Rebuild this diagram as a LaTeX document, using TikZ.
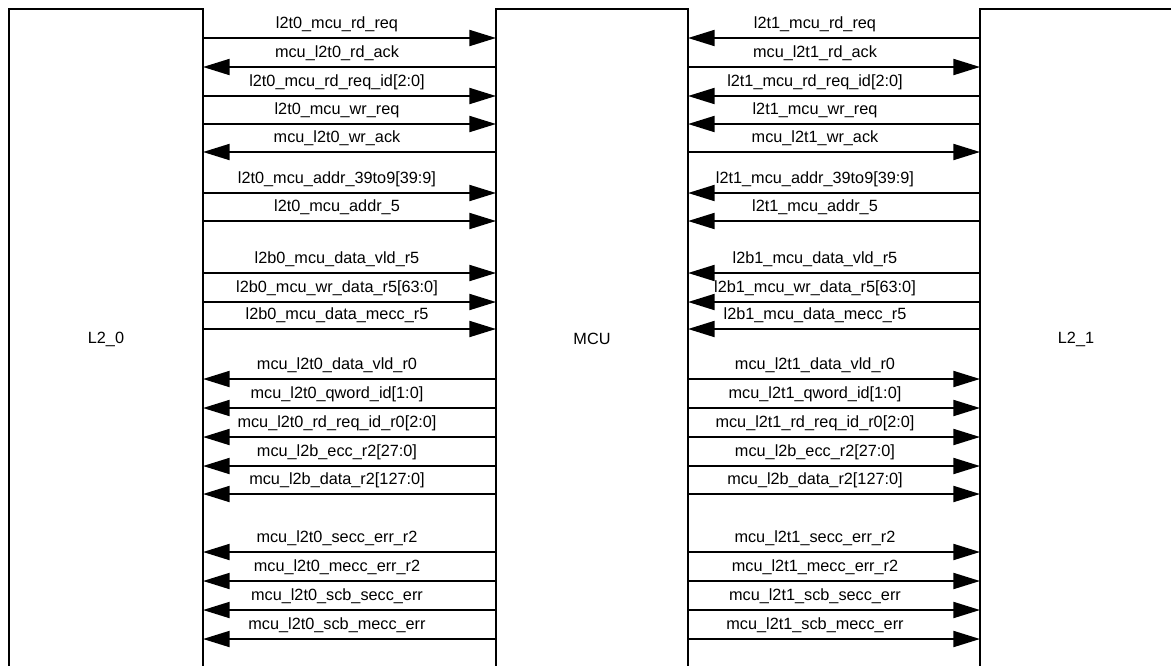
\documentclass[tikz,border=0pt]{standalone}
\usepackage{fontspec}
\setmainfont{Liberation Sans}
\usetikzlibrary{arrows.meta}

\begin{document}
\begin{tikzpicture}[x=0.75pt, y=-0.75pt,
    unit/.style={draw, line width=1.5pt, minimum height=495pt,
                 inner sep=0pt, outer sep=0pt, font=\fontsize{12.2}{14}\selectfont},
    wire/.style={line width=1.5pt, -{Triangle[length=20pt, width=12pt]}},
    signame/.style={anchor=base, inner sep=0pt, font=\fontsize{12.2}{14}\selectfont},
  ]
  \useasboundingbox (0,0) rectangle (1171,665);
  \clip (0,0) rectangle (1171,665);

  \node[unit, minimum width=145.5pt] (l20) at (106,339) {L2\_0};
  \node[unit, minimum width=144pt] (mcu) at (592,339) {MCU};
  \node[unit, minimum width=144pt] (l21) at (1076,339) {L2\_1};

  % L2_0 <-> MCU
  \foreach \y/\p/\q/\txt in {
      38/l20.east/mcu.west/l2t0\_mcu\_rd\_req,
      67/mcu.west/l20.east/mcu\_l2t0\_rd\_ack,
      96/l20.east/mcu.west/l2t0\_mcu\_rd\_req\_id[2:0],
      124/l20.east/mcu.west/l2t0\_mcu\_wr\_req,
      152/mcu.west/l20.east/mcu\_l2t0\_wr\_ack,
      193/l20.east/mcu.west/l2t0\_mcu\_addr\_39to9[39:9],
      221/l20.east/mcu.west/l2t0\_mcu\_addr\_5,
      273/l20.east/mcu.west/l2b0\_mcu\_data\_vld\_r5,
      302/l20.east/mcu.west/l2b0\_mcu\_wr\_data\_r5[63:0],
      329/l20.east/mcu.west/l2b0\_mcu\_data\_mecc\_r5,
      379/mcu.west/l20.east/mcu\_l2t0\_data\_vld\_r0,
      408/mcu.west/l20.east/mcu\_l2t0\_qword\_id[1:0],
      437/mcu.west/l20.east/mcu\_l2t0\_rd\_req\_id\_r0[2:0],
      466/mcu.west/l20.east/mcu\_l2b\_ecc\_r2[27:0],
      494/mcu.west/l20.east/mcu\_l2b\_data\_r2[127:0],
      552/mcu.west/l20.east/mcu\_l2t0\_secc\_err\_r2,
      581/mcu.west/l20.east/mcu\_l2t0\_mecc\_err\_r2,
      610/mcu.west/l20.east/mcu\_l2t0\_scb\_secc\_err,
      639/mcu.west/l20.east/mcu\_l2t0\_scb\_mecc\_err}
  {
    \draw[wire] (\p |- 0,\y) -- (\q |- 0,\y);
    \node[signame] (sa-\y) at (337,\y-10) {\txt};
  }

  % MCU <-> L2_1
  \foreach \y/\p/\q/\txt in {
      38/l21.west/mcu.east/l2t1\_mcu\_rd\_req,
      67/mcu.east/l21.west/mcu\_l2t1\_rd\_ack,
      96/l21.west/mcu.east/l2t1\_mcu\_rd\_req\_id[2:0],
      124/l21.west/mcu.east/l2t1\_mcu\_wr\_req,
      152/mcu.east/l21.west/mcu\_l2t1\_wr\_ack,
      193/l21.west/mcu.east/l2t1\_mcu\_addr\_39to9[39:9],
      221/l21.west/mcu.east/l2t1\_mcu\_addr\_5,
      273/l21.west/mcu.east/l2b1\_mcu\_data\_vld\_r5,
      302/l21.west/mcu.east/l2b1\_mcu\_wr\_data\_r5[63:0],
      329/l21.west/mcu.east/l2b1\_mcu\_data\_mecc\_r5,
      379/mcu.east/l21.west/mcu\_l2t1\_data\_vld\_r0,
      408/mcu.east/l21.west/mcu\_l2t1\_qword\_id[1:0],
      437/mcu.east/l21.west/mcu\_l2t1\_rd\_req\_id\_r0[2:0],
      466/mcu.east/l21.west/mcu\_l2b\_ecc\_r2[27:0],
      494/mcu.east/l21.west/mcu\_l2b\_data\_r2[127:0],
      552/mcu.east/l21.west/mcu\_l2t1\_secc\_err\_r2,
      581/mcu.east/l21.west/mcu\_l2t1\_mecc\_err\_r2,
      610/mcu.east/l21.west/mcu\_l2t1\_scb\_secc\_err,
      639/mcu.east/l21.west/mcu\_l2t1\_scb\_mecc\_err}
  {
    \draw[wire] (\p |- 0,\y) -- (\q |- 0,\y);
    \node[signame] (sb-\y) at (815,\y-10) {\txt};
  }
\end{tikzpicture}
\end{document}
